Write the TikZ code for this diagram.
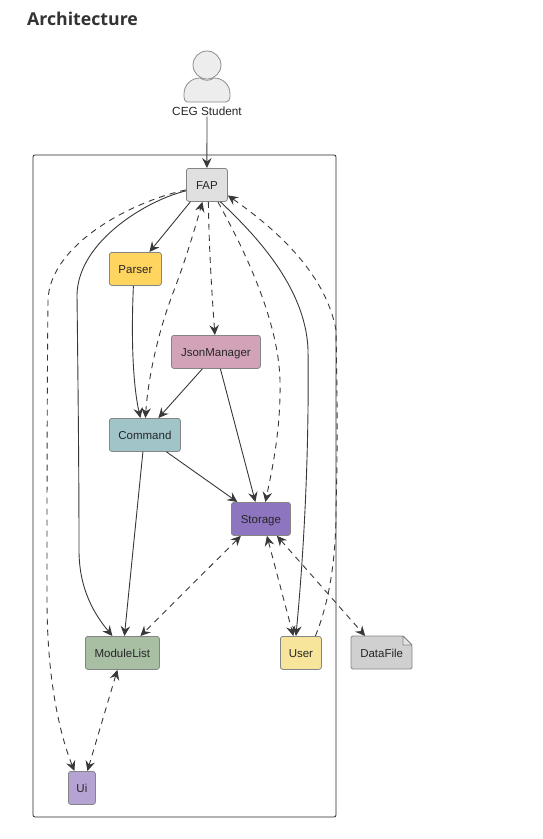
\documentclass[tikz,border=0pt]{standalone}
\usepackage{fontspec}
\setmainfont{Liberation Sans}
\newfontfamily\titlefont{Open Sans}
\usetikzlibrary{arrows.meta,calc}
\definecolor{edgecol}{HTML}{383838}
\definecolor{bordercol}{HTML}{858585}
\definecolor{cfap}{HTML}{E0E0E0}
\definecolor{cparser}{HTML}{FFD45F}
\definecolor{cjson}{HTML}{D2A3B8}
\definecolor{ccommand}{HTML}{A0C4C8}
\definecolor{cstorage}{HTML}{8E75C0}
\definecolor{cmod}{HTML}{A8BFA4}
\definecolor{cuser}{HTML}{F7E59B}
\definecolor{cui}{HTML}{B5A3D3}
\definecolor{cdata}{HTML}{D0D0D0}
\tikzset{
  x=1pt,y=-1pt,
  lab/.style={inner sep=0pt,font=\fontsize{11.5}{13}\selectfont,text=black!85},
  box/.style={lab,draw=bordercol,line width=0.8pt,rounded corners=2.5pt,anchor=north west,text height=10pt,text depth=0pt},
  solidedge/.style={draw=edgecol,line width=0.9pt,-{Stealth[length=10pt,width=9.5pt,inset=3.5pt]}},
  dashedge/.style={solidedge,dash pattern=on 6pt off 5pt},
  bothedge/.style={dashedge,{Stealth[length=10pt,width=9.5pt,inset=3.5pt]}-{Stealth[length=10pt,width=9.5pt,inset=3.5pt]}},
}
\newcommand{\bx}[7]{\node[box,fill=#7,minimum width=#4pt,minimum height=#5pt] (#1) at (#2,#3) {#6};}
\begin{document}
\begin{tikzpicture}
\useasboundingbox (0,0) rectangle (542,839);
\node[anchor=west,inner sep=0pt,font=\titlefont\bfseries\fontsize{17.7}{20}\selectfont,text=black!80] (title) at (27,19) {Architecture};
% frame
\draw[draw=black!85,line width=0.8pt,rounded corners=2pt] (33,155) rectangle (336,817);
% actor
\draw[draw=black!45,line width=0.8pt,fill=black!7] (187,102) -- (226,102) to[out=0,in=-90] (230,97) -- (230,94) .. controls (230,84) and (222,78) .. (214,78) .. controls (210,81) and (204,81) .. (200,78) .. controls (192,78) and (184,84) .. (184,94) -- (184,97) to[out=-90,in=180,looseness=0.8] (187,102) -- cycle;
\draw[draw=black!45,line width=0.8pt,fill=black!7] (207,65) circle[radius=14];
\node[lab,font=\fontsize{11.8}{13}\selectfont] (ceg) at (207,111) {CEG Student};
% boxes
\bx{fap}{186}{168}{41}{33}{FAP}{cfap}
\bx{parser}{109}{252}{52}{33}{Parser}{cparser}
\bx{json}{171}{335}{89}{33}{JsonManager}{cjson}
\bx{command}{109}{418}{71}{33}{Command}{ccommand}
\bx{storage}{231}{502}{59}{33}{Storage}{cstorage}
\bx{modlist}{85}{636}{74}{33}{ModuleList}{cmod}
\bx{user}{280}{636}{41}{33}{User}{cuser}
\bx{ui}{68}{771}{27}{33}{Ui}{cui}
% data file with folded corner
\draw[draw=bordercol,line width=0.8pt,fill=cdata,rounded corners=1.5pt] (351,636) -- (403,636) -- (412,645) -- (412,669) -- (351,669) -- cycle;
\draw[draw=bordercol,line width=0.8pt,fill=black!10,line join=round] (403,636) -- (403,645) -- (412,645) -- cycle;
\node[lab,minimum width=61pt,minimum height=33pt,anchor=north west,text height=10pt,text depth=0pt] (data) at (351,636) {DataFile};
% connectors
\draw[solidedge] (ceg.south) ++(0,1) -- (fap.north);
\draw[solidedge] ([xshift=-16.5pt]fap.south) -- ([xshift=14pt]parser.north);
\draw[solidedge] ([yshift=-6pt]fap.west) .. controls (150,199) and (78,240) .. (77,295) .. controls (78,380) and (79,470) .. (79,550) .. controls (79,590) and (95,615) .. ([xshift=-10pt]modlist.north);
\draw[dashedge] ([yshift=-5pt]fap.west) .. controls (130,202) and (50,245) .. (48,300) .. controls (47,400) and (47,500) .. (47,600) .. controls (47,680) and (60,735) .. ([xshift=-7.5pt]ui.north);
\draw[solidedge] ([xshift=-2pt]parser.south) .. controls (131,340) and (133,385) .. ([xshift=-4.5pt]command.north);
\draw[bothedge] ([xshift=0.5pt]command.north) .. controls (148,380) and (157,335) .. (173,293) .. controls (185,262) and (196,225) .. ([xshift=-4.5pt]fap.south);
\draw[dashedge] ([xshift=1.5pt]fap.south) .. controls (209,250) and (212,295) .. ([xshift=-1pt]json.north);
\draw[dashedge] ([xshift=11pt]fap.south) .. controls (232,228) and (278,310) .. (280,380) .. controls (281,430) and (272,470) .. ([xshift=4.5pt]storage.north);
\draw[solidedge] ([xshift=13.5pt]fap.south) .. controls (250,230) and (306,285) .. (308,350) .. controls (309,430) and (306,530) .. ([xshift=-5pt]user.north);
\draw[dashedge] ([xshift=14.5pt]user.north) .. controls (326,610) and (336,570) .. (336,510) .. controls (338,440) and (337,390) .. (336,330) .. controls (325,270) and (270,225) .. ([yshift=-10.5pt]fap.east);
\draw[solidedge] ([xshift=-13.5pt]json.south) -- ([xshift=13.5pt]command.north);
\draw[solidedge] ([xshift=4.5pt]json.south) -- ([xshift=-5.5pt]storage.north);
\draw[solidedge] ([xshift=21.5pt]command.south) -- ([xshift=-23.5pt]storage.north);
\draw[solidedge] ([xshift=-2pt]command.south) -- ([xshift=2pt]modlist.north);
\draw[bothedge] ([xshift=-20pt]storage.south) -- ([xshift=18pt]modlist.north);
\draw[bothedge] ([xshift=6pt]storage.south) -- ([xshift=-7.5pt]user.north);
\draw[bothedge] ([xshift=16pt]storage.south) -- ([xshift=-16.5pt]data.north);
\draw[bothedge] ([xshift=-5pt]modlist.south) -- ([xshift=5.5pt]ui.north);
\end{tikzpicture}
\end{document}
